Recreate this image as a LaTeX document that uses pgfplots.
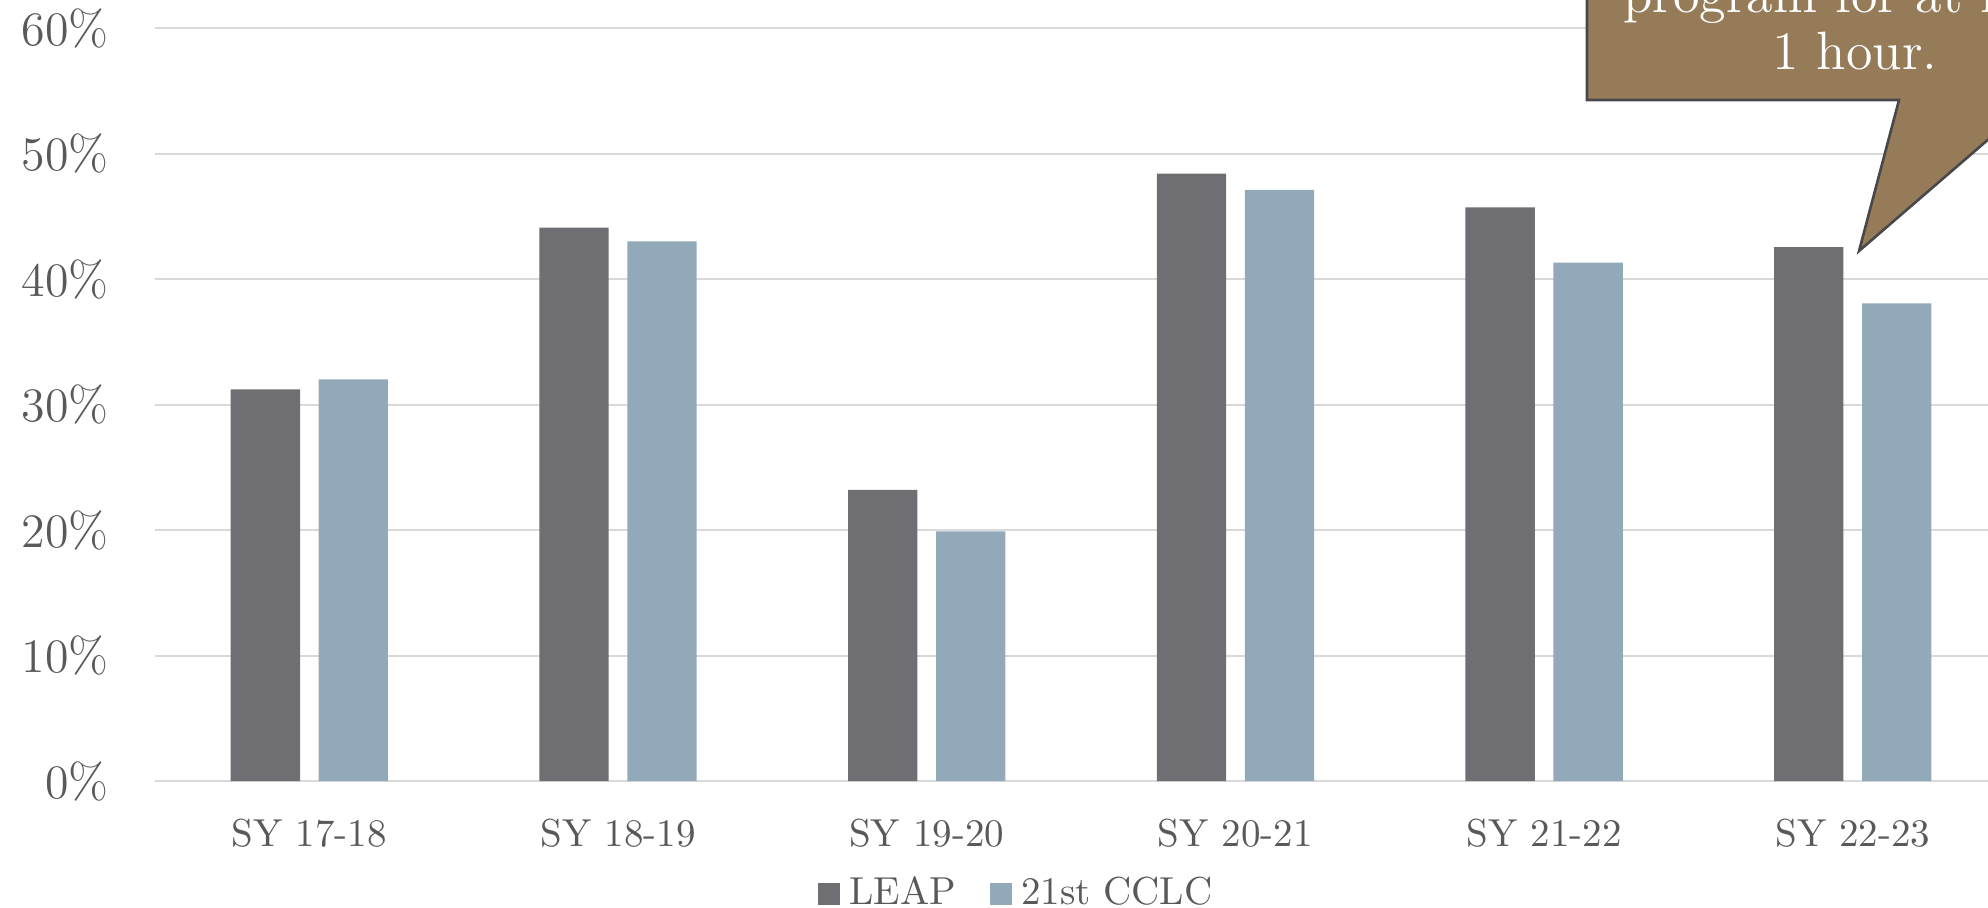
\documentclass[border=0pt]{standalone}
\usepackage{pgfplots}
\pgfplotsset{compat=1.18}
\definecolor{leap}{RGB}{111,110,115}
\definecolor{cclc}{RGB}{146,169,185}
\definecolor{gridgray}{RGB}{217,217,217}
\definecolor{txtgray}{RGB}{89,89,89}
\definecolor{callout}{RGB}{150,123,89}
\definecolor{calloutline}{RGB}{72,72,76}
\begin{document}
\begin{tikzpicture}
% frame of the picture: 1 px = 0.25pt, origin at top left
\useasboundingbox (0pt,-227pt) rectangle (497pt,0pt);
\begin{axis}[
	at={(38.75pt,-195.25pt)}, anchor=south west,
	scale only axis, width=458.25pt, height=188.25pt,
	xmin=-0.5, xmax=5.438, ymin=0, ymax=60,
	ybar, bar width=0.2245,
	xtick={0,...,5},
	xticklabels={SY 17-18,SY 18-19,SY 19-20,SY 20-21,SY 21-22,SY 22-23},
	ytick={0,10,...,60},
	yticklabel={\pgfmathprintnumber{\tick}\%},
	ymajorgrids, grid style={draw=gridgray, line width=0.5pt},
	axis line style={draw=none},
	tick style={draw=none},
	tick label style={text=txtgray},
	xticklabel style={font=\fontsize{9.75}{11}\selectfont, yshift=-1.75pt},
	yticklabel style={font=\fontsize{12.25}{14}\selectfont, xshift=-8pt},
	legend style={at={(0.4715,-0.150)}, anchor=center, draw=none, fill=none,
		font=\fontsize{9.75}{11}\selectfont, text=txtgray, inner sep=0pt,
		/tikz/every even column/.append style={column sep=6.5pt}},
	legend columns=2,
]
\addplot[fill=leap, draw=none, bar shift=-0.1425,
	legend image code/.code={\fill[leap] (0pt,-2.7pt) rectangle (5.4pt,2.7pt);
		\path (0pt,0pt) -- (5.8pt,0pt);}]
	coordinates {(0,31.2) (1,44.1) (2,23.2) (3,48.4) (4,45.7) (5,42.55)};
\addplot[fill=cclc, draw=none, bar shift=0.1425,
	legend image code/.code={\fill[cclc] (0pt,-2.7pt) rectangle (5.4pt,2.7pt);
		\path (0pt,0pt) -- (5.8pt,0pt);}]
	coordinates {(0,32.0) (1,43.0) (2,19.9) (3,47.1) (4,41.3) (5,38.05)};
\legend{LEAP,21st CCLC}
\end{axis}
% callout, cut by the right and top edges
\begin{scope}[x=0.25pt, y=-0.25pt]
\clip (0,0) rectangle (1988,908);
\filldraw[fill=callout, draw=calloutline, line width=0.65pt, line join=miter]
	(1587,-400) -- (1587,100) -- (1899,100) -- (1859,251) -- (2034,100)
	-- (2400,100) -- (2400,-400) -- cycle;
\node[text=white, font=\fontsize{13.5}{16}\selectfont, anchor=base] at (1855,13) {program for at least};
\node[text=white, font=\fontsize{13.5}{16}\selectfont, anchor=base] at (1855,70) {1 hour.};
\end{scope}
\end{tikzpicture}
\end{document}
